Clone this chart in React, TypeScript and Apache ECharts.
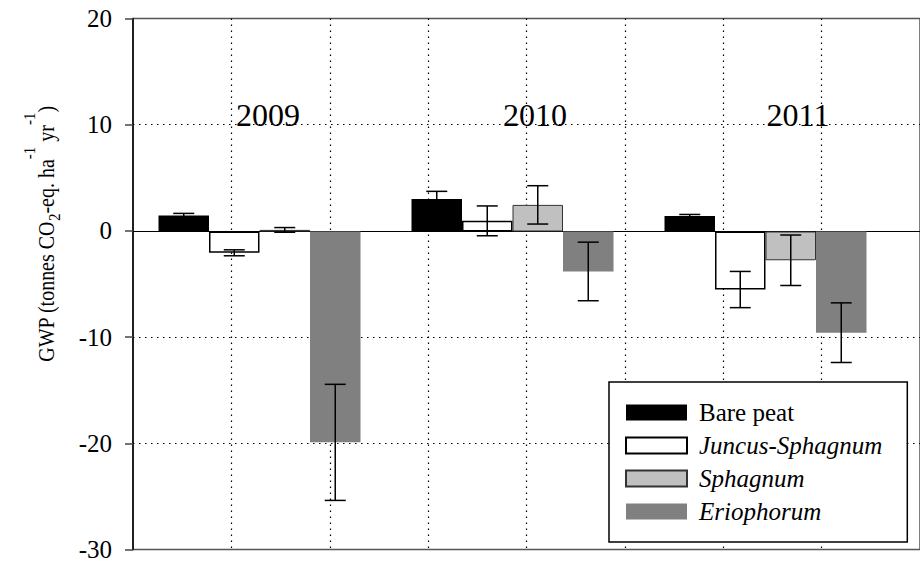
import React, { useEffect, useRef } from "react";
import * as echarts from "echarts";

// GWP per treatment and year (tonnes CO2-eq. ha-1 yr-1), mean and error
const years = ["2009", "2010", "2011"];
const treatments = ["Bare peat", "Juncus-Sphagnum", "Sphagnum", "Eriophorum"];
const barePeat = [1.5, 3.05, 1.45];
const barePeatErr = [0.2, 0.72, 0.15];
const juncusSphagnum = [-2.0, 1.0, -5.45];
const juncusSphagnumErr = [0.28, 1.4, 1.7];
const sphagnum = [0.15, 2.5, -2.7];
const sphagnumErr = [0.22, 1.8, 2.37];
const eriophorum = [-19.8, -3.75, -9.5];
const eriophorumErr = [5.45, 2.75, 2.8];
const yMin = -30;
const yMax = 20;
const yStep = 10;

const SERIF = "Liberation Serif";
const PLOT_LEFT = 133;
const PLOT_TOP = 18.5;
const PLOT_HEIGHT = 532.5;
const FRAME_WIDTH = 808; // frame runs past the right edge of the page
const BAR_GRID_WIDTH = 759;
const BAR_W = 50.5;
const CAP_W = 21;

const barStyles = [
  { color: "#000000", borderColor: "#000000", borderWidth: 0 },
  { color: "#ffffff", borderColor: "#000000", borderWidth: 1.5 },
  { color: "#c0c0c0", borderColor: "#333333", borderWidth: 1 },
  { color: "#808080", borderColor: "#808080", borderWidth: 0 },
];

const values = [barePeat, juncusSphagnum, sphagnum, eriophorum];
const errors = [barePeatErr, juncusSphagnumErr, sphagnumErr, eriophorumErr];

function errorBarSeries(k: number) {
  const vals = values[k];
  const errs = errors[k];
  return {
    type: "custom",
    name: treatments[k] + " error",
    xAxisIndex: 1,
    yAxisIndex: 1,
    z: 5,
    silent: true,
    encode: { x: 0, y: [1, 2] },
    data: vals.map((v, i) => [i, v - errs[i], v + errs[i]]),
    renderItem: (_params: any, api: any) => {
      const cat = api.value(0);
      const lo = api.coord([cat, api.value(1)]);
      const hi = api.coord([cat, api.value(2)]);
      const x = lo[0] + (k - 1.5) * BAR_W;
      const h = CAP_W / 2;
      const style = { stroke: "#000", lineWidth: 1.5 };
      return {
        type: "group",
        children: [
          { type: "line", shape: { x1: x, y1: lo[1], x2: x, y2: hi[1] }, style },
          { type: "line", shape: { x1: x - h, y1: lo[1], x2: x + h, y2: lo[1] }, style },
          { type: "line", shape: { x1: x - h, y1: hi[1], x2: x + h, y2: hi[1] }, style },
        ],
      };
    },
  };
}

export default function App() {
  const ref = useRef<HTMLDivElement>(null);

  useEffect(() => {
    if (!ref.current) return;
    const chart = echarts.init(ref.current, undefined, { renderer: "svg" });

    const barSeries = treatments.map((name, k) => ({
      type: "bar",
      name,
      xAxisIndex: 1,
      yAxisIndex: 1,
      barWidth: BAR_W,
      barGap: "0%",
      z: 3,
      itemStyle: barStyles[k],
      emphasis: { disabled: true },
      data: values[k],
    }));

    const yearLabelX = [268, 535, 798];
    // rotated axis title: tokens are top-aligned in a shared line box and pushed down by padding
    const LH = 41;
    const titleRich = {
      t: { fontFamily: SERIF, fontSize: 20, fill: "#000", lineHeight: LH, verticalAlign: "top", padding: [15, 0, 0, 0] },
      sub: { fontFamily: SERIF, fontSize: 15, fill: "#000", lineHeight: LH, verticalAlign: "top", padding: [24, 0, 0, 0] },
      sup: { fontFamily: SERIF, fontSize: 15, fill: "#000", lineHeight: LH, verticalAlign: "top", padding: [3, 0, 0, 0] },
    };

    const yearTexts = years.map((y, i) => ({
      type: "text",
      x: yearLabelX[i],
      y: 115,
      z: 10,
      style: {
        text: y,
        fontFamily: SERIF,
        fontSize: 32,
        fill: "#000",
        textAlign: "center",
        textVerticalAlign: "middle",
      },
    }));

    const titleText = {
      type: "text",
      x: 41,
      y: 234,
      rotation: Math.PI / 2,
      scaleY: 1.15,
      z: 10,
      style: {
        text: "{t|GWP (tonnes CO}{sub|2}{t|-eq. ha}{sup|-1}{t| yr}{sup|-1}{t|)}",
        textAlign: "center",
        textVerticalAlign: "middle",
        rich: titleRich,
      },
    };

    chart.setOption({
      animation: false,
      backgroundColor: "#ffffff",
      textStyle: { fontFamily: SERIF },
      grid: [
        {
          left: PLOT_LEFT,
          top: PLOT_TOP,
          width: FRAME_WIDTH,
          height: PLOT_HEIGHT,
          show: true,
          borderColor: "#555555",
          borderWidth: 1.5,
          backgroundColor: "transparent",
        },
        {
          left: PLOT_LEFT,
          top: PLOT_TOP,
          width: BAR_GRID_WIDTH,
          height: PLOT_HEIGHT,
        },
      ],
      xAxis: [
        {
          type: "value",
          gridIndex: 0,
          min: 0,
          max: 8,
          interval: 1,
          axisLine: { show: true, onZero: true, lineStyle: { color: "#000", width: 1.2 } },
          axisTick: { show: false },
          axisLabel: { show: false },
          splitLine: {
            show: true,
            showMinLine: false,
            showMaxLine: false,
            lineStyle: { color: "#000", width: 1.2, type: [1.5, 4.5] },
          },
        },
        {
          type: "category",
          gridIndex: 1,
          data: years,
          show: false,
        },
      ],
      yAxis: [
        {
          type: "value",
          gridIndex: 0,
          min: yMin,
          max: yMax,
          interval: yStep,
          axisLine: { show: true, lineStyle: { color: "#000", width: 1.5 } },
          axisTick: { show: true, length: 8, lineStyle: { color: "#444", width: 1.5 } },
          axisLabel: {
            margin: 21,
            color: "#000",
            fontFamily: SERIF,
            fontSize: 25,
          },
          splitLine: {
            show: true,
            showMinLine: false,
            showMaxLine: false,
            lineStyle: { color: "#000", width: 1.2, type: [1.5, 4.5] },
          },
        },
        {
          type: "value",
          gridIndex: 1,
          min: yMin,
          max: yMax,
          interval: yStep,
          show: false,
          splitLine: { show: false },
        },
      ],
      legend: {
        data: treatments,
        orient: "vertical",
        left: 609,
        top: 382,
        icon: "rect",
        itemWidth: 61,
        itemHeight: 16,
        itemGap: 8,
        padding: [18, 25, 18, 16],
        borderColor: "#000",
        borderWidth: 1.5,
        backgroundColor: "#ffffff",
        selectedMode: false,
        formatter: (name: string) => (name === "Bare peat" ? name : `{i|${name}}`),
        textStyle: {
          fontFamily: SERIF,
          fontSize: 25,
          color: "#000",
          padding: [0, 0, 0, 7],
          rich: {
            i: { fontFamily: SERIF, fontSize: 25, fontStyle: "italic", color: "#000" },
          },
        },
      },
      graphic: [...yearTexts, titleText],
      series: [...barSeries, ...treatments.map((_, k) => errorBarSeries(k))],
    });

    return () => chart.dispose();
  }, []);

  return <div ref={ref} style={{ width: 920, height: 562, position: "absolute", left: 0, top: 0 }} />;
}
